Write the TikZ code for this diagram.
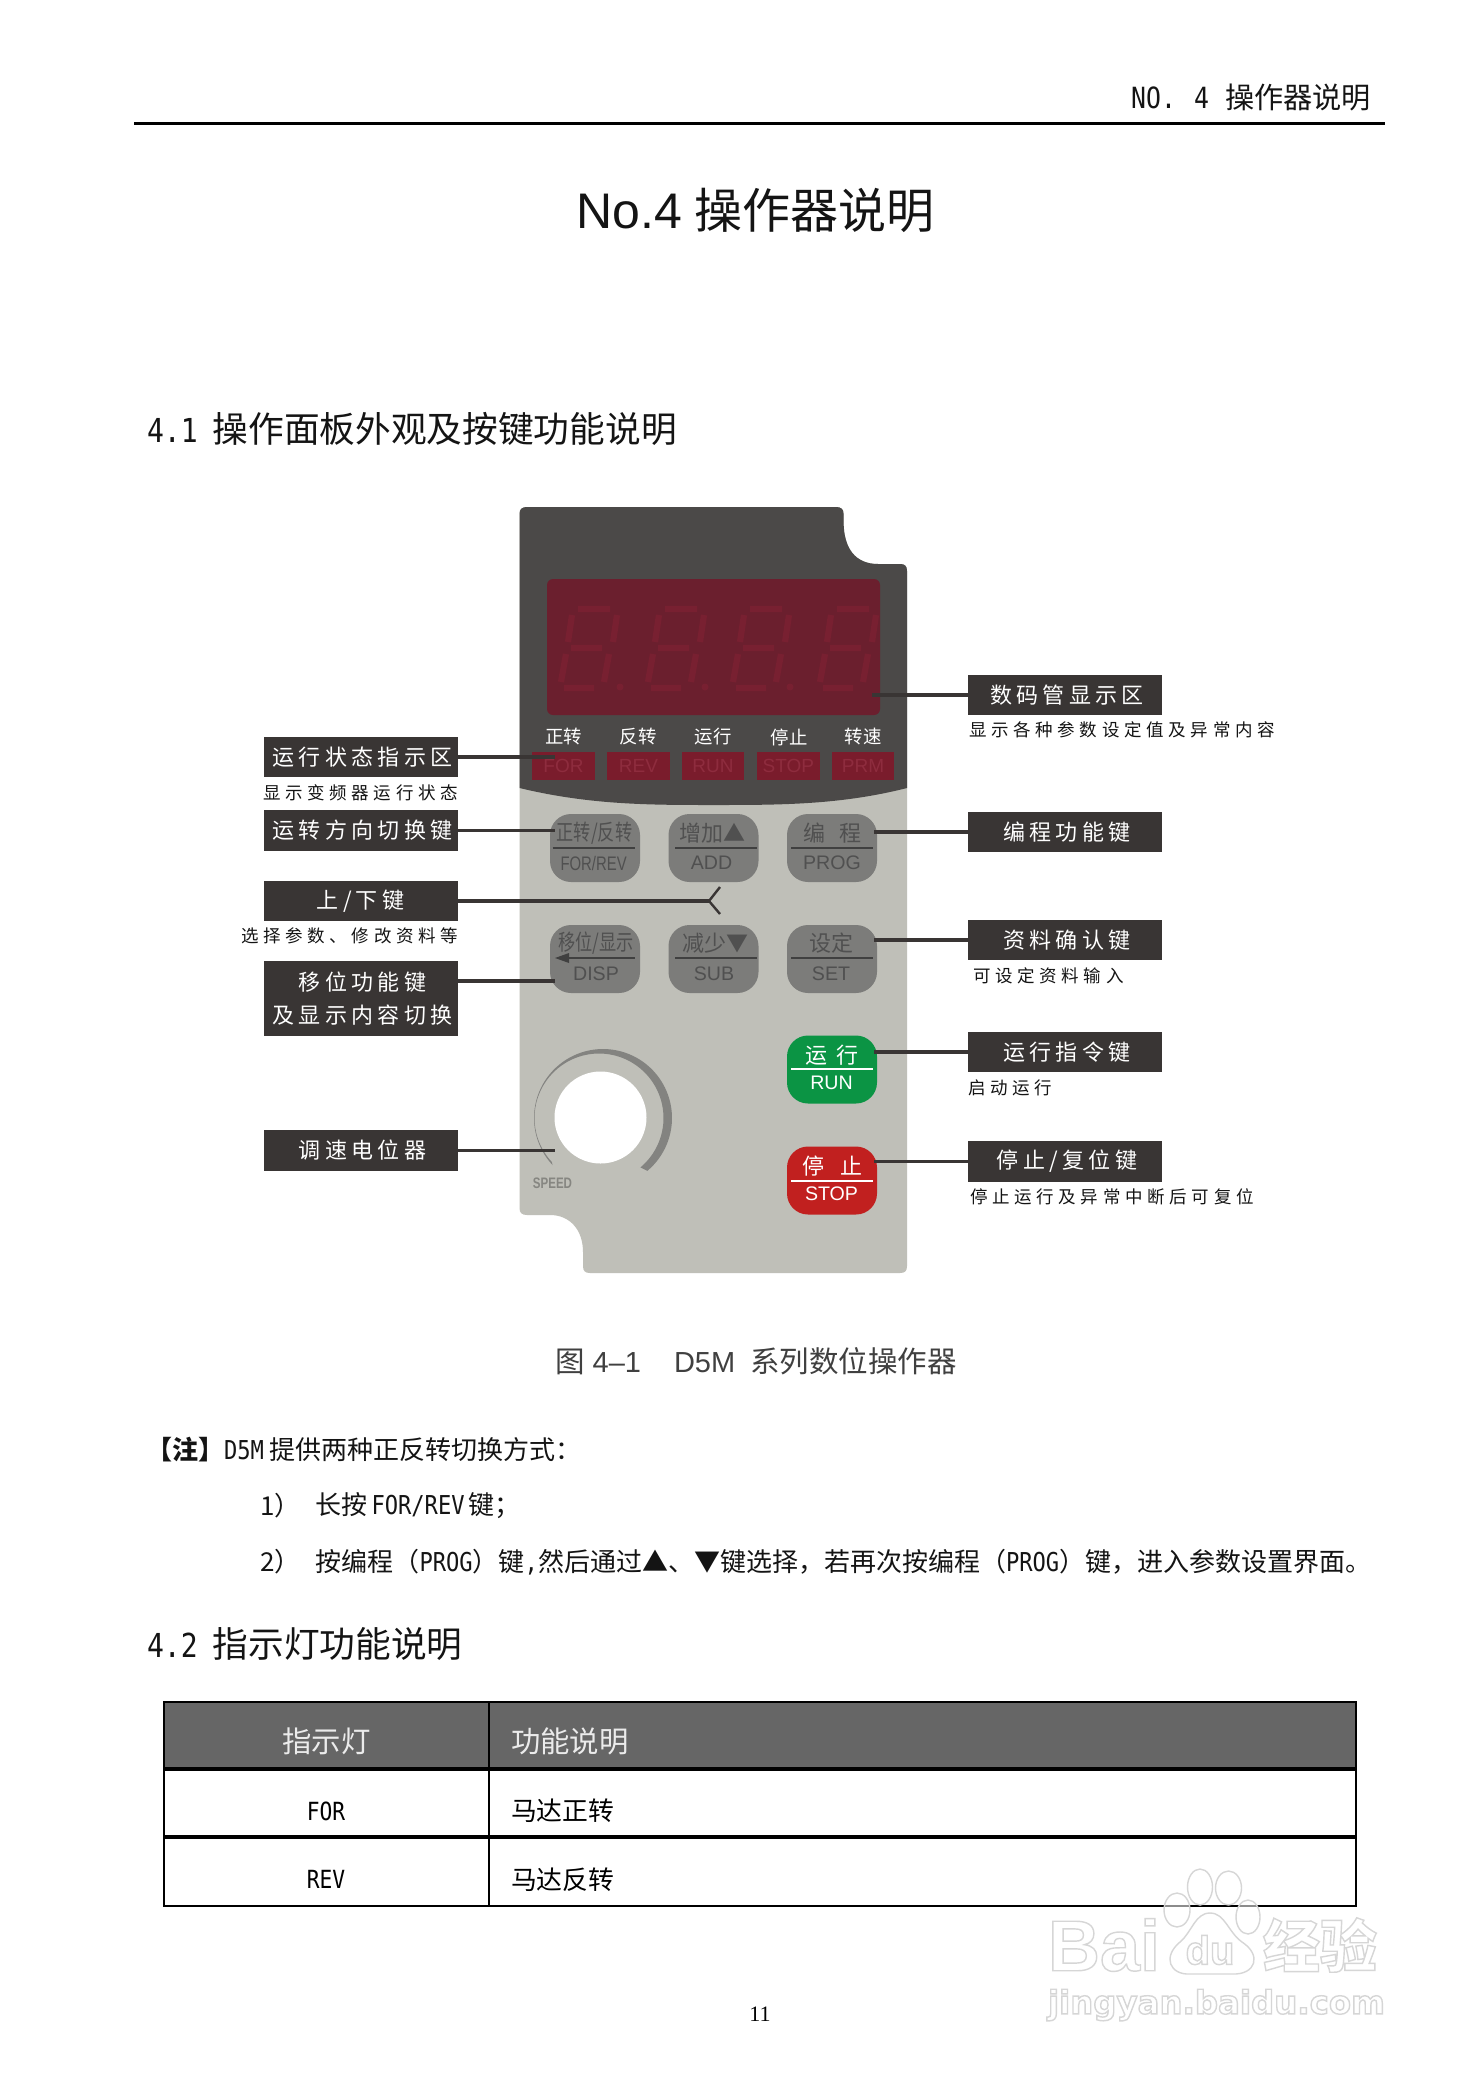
\documentclass[tikz,border=0pt]{standalone}
\usepackage{fontspec}
\setmainfont{Noto Sans CJK SC}
\newfontfamily\zhcond[FakeStretch=0.78]{Noto Sans CJK SC}
\newfontfamily\sa{Liberation Sans}
\newfontfamily\sacond[FakeStretch=0.76]{Liberation Sans}
\newfontfamily\mon[FakeStretch=0.85]{DejaVu Sans Mono}
\newfontfamily\srf{Liberation Serif}
\newfontfamily\wmf{DejaVu Sans}
\newcommand{\fsz}[1]{\fontsize{#1}{#1}\selectfont}
\newcommand{\wmtext}[1]{\special{pdf:code q 1 Tr 0.7 w 0.84 0.84 0.84 RG}#1\special{pdf:code Q}}
\definecolor{boxc}{HTML}{393534}
\definecolor{dark}{HTML}{4B4948}
\definecolor{light}{HTML}{BFBFB8}
\definecolor{btn}{HTML}{7C7C7A}
\definecolor{btnt}{HTML}{505050}
\definecolor{led}{HTML}{6B1F2E}
\definecolor{seg}{HTML}{782031}
\definecolor{ledr}{HTML}{7A1C2C}
\definecolor{ledt}{HTML}{8E2C3E}
\definecolor{runc}{HTML}{0B9444}
\definecolor{stopc}{HTML}{C1201F}
\definecolor{ink}{HTML}{141414}
\tikzset{
 txt/.style={inner sep=0pt,outer sep=0pt},
 callbox/.style={fill=boxc,text=white,inner sep=0pt,outer sep=0pt,minimum width=97pt,minimum height=20.2pt,align=center,font=\fontsize{11}{16.5}\selectfont\addfontfeature{LetterSpace=19.5}},
 subtxt/.style={txt,anchor=west,text=ink,font=\fsz{8.75}\addfontfeature{LetterSpace=26.8}},
 conn/.style={draw=boxc,line width=1.9pt},
 key/.style={inner sep=0pt,outer sep=0pt,minimum width=45pt,minimum height=34pt,rounded corners=10.5pt,fill=btn},
 keyup/.style={txt,text=btnt,font=\fsz{11}},
 keylo/.style={txt,text=btnt,font=\sa\fsz{9.8}},
 keyline/.style={line width=1.3pt},
 ledbox/.style={inner sep=0pt,outer sep=0pt,fill=ledr,minimum height=14pt,text=ledt,font=\sa\fsz{9.5}},
 ledlab/.style={txt,text=white,font=\fsz{9.2}},
 segm/.style={draw=seg,line width=3.1pt},
 body/.style={txt,anchor=west,text=ink,font=\fsz{13}},
 tline/.style={draw=black},
 wmark/.style={draw=black!16,line width=.7pt,fill=white,fill opacity=.55},
}
\newcommand{\digit}[1]{
 \draw[segm] (#1+21,609)--(#1+53,609) (#1+14,648)--(#1+45,648) (#1+7,688)--(#1+37,688)
   (#1+15,615)--(#1+11,642) (#1+60,615)--(#1+56,642) (#1+9,654)--(#1+4,682) (#1+52,654)--(#1+47,682);
}
\begin{document}
\begin{tikzpicture}[x=0.5pt,y=-0.5pt]
\useasboundingbox[fill=white] (0,0) rectangle (1474,2087);

% page header
\node[txt,anchor=east,text=ink,font=\fsz{14.6}] (hdr) at (1371,98) {{\mon NO.\hspace{9pt}4}\hspace{8pt}操作器说明};
\draw[line width=1.65pt] (134,123.3) -- (1385,123.3);
\node[txt,text=ink,font=\fsz{24}] (title) at (755.5,210.5) {{\sa\fsz{25}No.4}\hspace{6pt}操作器说明};
\node[txt,anchor=west,text=ink,font=\fsz{17.85}] (h41) at (147,428.5) {{\mon\fsz{16.5}4.1}\hspace{7.5pt}操作面板外观及按键功能说明};

% panel
\fill[light] (519.5,514) .. controls (519.5,509) and (522,507) .. (527,507) -- (836,507)
  .. controls (841,507) and (843.6,509) .. (843.6,514) -- (843.6,523)
  .. controls (844,548) and (855,564) .. (878,564) -- (900,564)
  .. controls (905,564) and (907,566) .. (907,571) -- (907,1266)
  .. controls (907,1271) and (905,1273) .. (900,1273) -- (590,1273)
  .. controls (585,1273) and (583,1271) .. (583,1266) -- (583,1252)
  .. controls (583,1230) and (570,1215) .. (550,1215) -- (527,1215)
  .. controls (522,1215) and (519.5,1213) .. (519.5,1208) -- cycle;
\fill[dark] (519.5,514) .. controls (519.5,509) and (522,507) .. (527,507) -- (836,507)
  .. controls (841,507) and (843.6,509) .. (843.6,514) -- (843.6,523)
  .. controls (844,548) and (855,564) .. (878,564) -- (900,564)
  .. controls (905,564) and (907,566) .. (907,571) -- (907,788)
  .. controls (840,805) and (780,805) .. (713,805)
  .. controls (650,805) and (590,805) .. (519.5,788) -- cycle;
\fill[led,rounded corners=3pt] (547,579) rectangle (880,715);
\digit{557}\digit{644}\digit{729}\digit{816}
\fill[seg] (620,687) circle[radius=3.5] (705,687) circle[radius=3.5] (790,687) circle[radius=3.5];

% indicator labels and lamps
\node[ledlab] (l1) at (563.6,737) {正转};
\node[ledlab] (l2) at (638,737) {反转};
\node[ledlab] (l3) at (713,737) {运行};
\node[ledlab] (l4) at (789,737) {停止};
\node[ledlab] (l5) at (863,737) {转速};
\node[ledbox,minimum width=31.5pt] (for) at (563.5,766) {FOR};
\node[ledbox,minimum width=31.5pt] (rev) at (638.5,766) {REV};
\node[ledbox,minimum width=31.2pt] (run) at (713,766) {RUN};
\node[ledbox,minimum width=31.2pt] (stp) at (788.3,766) {STOP};
\node[ledbox,minimum width=31pt] (prm) at (863,766) {PRM};

% keys
\node[key] (kfor) at (595,848) {};
\node[key] (kadd) at (713.5,848) {};
\node[key] (kprg) at (832,848) {};
\node[key] (kdis) at (595,959) {};
\node[key] (ksub) at (713.5,959) {};
\node[key] (kset) at (832,959) {};
\node[key,fill=runc] (krun) at (832,1069.5) {};
\node[key,fill=stopc] (kstp) at (832,1180.5) {};
\draw[keyline,btnt!80!black] (552.5,848) -- (634.6,848) (675,848) -- (757,848) (791,848) -- (873,848)
   (569,958) -- (635,958) (675,958) -- (757,958) (791,958) -- (873,958);
\fill[btnt!80!black] (555,958) -- (569,953) -- (569,963) -- cycle;
\draw[keyline,white] (791,1069) -- (873,1069) (791,1181) -- (873,1181);
\node[keyup,font=\zhcond\fsz{11}] (t1) at (594.5,833) {正转/反转};
\node[keyup] (t2) at (712,833) {增加▲};
\node[keyup] (t3) at (832,833) {编\hspace{7pt}程};
\node[keylo,font=\sacond\fsz{9.8}] (t4) at (593.6,863) {FOR/REV};
\node[keylo] (t5) at (711.5,863) {ADD};
\node[keylo] (t6) at (832,863) {PROG};
\node[keyup,font=\zhcond\fsz{11}] (t7) at (596,943) {移位/显示};
\node[keyup] (t8) at (715,943) {减少▼};
\node[keyup] (t9) at (831.5,943) {设定};
\node[keylo] (t10) at (596,974) {DISP};
\node[keylo] (t11) at (714,974) {SUB};
\node[keylo] (t12) at (831,974) {SET};
\node[keyup,text=white] (t13) at (832,1055) {运\hspace{4.7pt}行};
\node[keylo,text=white] (t14) at (831.5,1083) {RUN};
\node[keyup,text=white] (t15) at (832,1166) {停\hspace{8pt}止};
\node[keylo,text=white] (t16) at (831.5,1194) {STOP};

% speed knob
\fill[btn!90!light] plot[domain=137:410,samples=80] ({603+69*cos(\x)},{1118+69*sin(\x)})
   -- plot[domain=410:137,samples=80] ({599+64.5*cos(\x)},{1118+64.5*sin(\x)}) -- cycle;
\node[circle,fill=white,inner sep=0pt,outer sep=0pt,minimum size=46pt] (knob) at (600.5,1117.5) {};
\node[txt,text=black!30!light,font=\sacond\bfseries\fsz{7.6}] (spd) at (552.5,1183) {SPEED};

% callouts left
\node[callbox] (c1) at (360.5,757) {\hspace*{2pt}运行状态指示区};
\node[callbox] (c2) at (360.5,830.5) {\hspace*{2pt}运转方向切换键};
\node[callbox] (c3) at (360.5,901) {上/下键};
\node[callbox,minimum height=37.5pt] (c4) at (360.5,998.5) {\hspace*{2pt}移位功能键\\\hspace*{2pt}及显示内容切换};
\node[callbox] (c5) at (360.5,1150.5) {\hspace*{2pt}调速电位器};
\node[subtxt] (s1) at (263,793) {显示变频器运行状态};
\node[subtxt] (s3) at (241,936) {选择参数、修改资料等};

% callouts right
\node[callbox] (d1) at (1065,694.7) {\hspace*{2pt}数码管显示区};
\node[callbox] (d2) at (1065,832) {\hspace*{2pt}编程功能键};
\node[callbox] (d3) at (1065,940) {\hspace*{2pt}资料确认键};
\node[callbox] (d4) at (1065,1052) {\hspace*{2pt}运行指令键};
\node[callbox] (d5) at (1065,1161.5) {\hspace*{2pt}停止/复位键};
\node[subtxt] (s4) at (969,730) {显示各种参数设定值及异常内容};
\node[subtxt] (s5) at (973,975.6) {可设定资料输入};
\node[subtxt] (s6) at (968,1087.5) {启动运行};
\node[subtxt] (s7) at (970,1197) {停止运行及异常中断后可复位};

% connector ends
\coordinate (e1) at (555,757);
\coordinate (e2) at (555,830.5);
\coordinate (e3) at (709,901);
\coordinate (e3a) at (720,887);
\coordinate (e3b) at (720,914);
\coordinate (e4) at (555,981);
\coordinate (e5) at (555,1150.5);
\coordinate (f1) at (872,694.7);
\coordinate (f2) at (874,832);
\coordinate (f3) at (874,940);
\coordinate (f4) at (874,1052);
\coordinate (f5) at (874,1161.5);
\draw[conn] (c1.east) -- (e1);
\draw[conn] (c2.east) -- (e2);
\draw[conn] (c3.east) -- (e3);
\draw[conn,line width=1.2pt] (e3a) -- (e3) -- (e3b);
\draw[conn] (c4.east |- e4) -- (e4);
\draw[conn] (c5.east) -- (e5);
\draw[conn] (d1.west) -- (f1);
\draw[conn] (d2.west) -- (f2);
\draw[conn] (d3.west) -- (f3);
\draw[conn] (d4.west) -- (f4);
\draw[conn] (d5.west) -- (f5);

% caption and notes
\node[txt,text=black!75,font=\fsz{14.75}] (cap) at (756,1361) {图\hspace{4pt}{\sa\fsz{14.5}4–1}\hspace{16.5pt}{\sa\fsz{14.5}D5M}\hspace{7.5pt}系列数位操作器};
\node[body] (n0) at (146,1450) {{\bfseries 【注】}{\mon D5M}\hspace{3pt}提供两种正反转切换方式：};
\node[body] (n1a) at (260,1506) {1）};
\node[body] (n1b) at (315.5,1506) {长按\hspace{2pt}{\mon FOR/REV}\hspace{2pt}键；};
\node[body] (n2a) at (260,1562) {2）};
\node[body] (n2b) at (315.5,1562) {按编程（{\mon PROG}）键{\mon,}然后通过▲、▼键选择，若再次按编程（{\mon PROG}）键，进入参数设置界面。};
\node[txt,anchor=west,text=ink,font=\fsz{17.85}] (h42) at (147,1644) {{\mon\fsz{16.5}4.2}\hspace{7.5pt}指示灯功能说明};

% table
\fill[black!60] (163.6,1702) rectangle (1355.5,1769);
\draw[tline,line width=1pt] (163.6,1702) rectangle (1355.5,1906);
\draw[tline,line width=.8pt] (489,1702) -- (489,1906);
\draw[tline,line width=1.8pt] (163.6,1769) -- (1355.5,1769);
\draw[tline,line width=1.6pt] (163.6,1837) -- (1355.5,1837);
\draw[tline,line width=1.3pt] (163.6,1906) -- (1355.5,1906);
\node[txt,text=white!92!black,font=\fsz{14.7}] (th1) at (326.5,1741) {指示灯};
\node[txt,anchor=west,text=white!92!black,font=\fsz{14.7}] (th2) at (511,1741) {功能说明};
\node[txt,font=\mon\fsz{12.5}] (c11) at (326,1811) {FOR};
\node[txt,anchor=west,font=\fsz{12.9}] (c12) at (511,1811) {马达正转};
\node[txt,font=\mon\fsz{12.5}] (c21) at (326,1879) {REV};
\node[txt,anchor=west,font=\fsz{12.9}] (c22) at (511,1880) {马达反转};

\node[txt,font=\srf\fsz{11}] (pg) at (760,2014) {11};

% watermark
\draw[wmark] (1200,1887) ellipse[x radius=12.5,y radius=18];
\draw[wmark] (1228.5,1888) ellipse[x radius=13,y radius=17];
\draw[wmark] (1177,1910) ellipse[x radius=13,y radius=17];
\draw[wmark] (1248,1917) ellipse[x radius=12,y radius=17];
\draw[wmark] (1210,1913) .. controls (1195,1913) and (1192,1932) .. (1180,1942)
   .. controls (1162,1957) and (1170,1975) .. (1190,1974) -- (1232,1974)
   .. controls (1256,1975) and (1262,1955) .. (1242,1942)
   .. controls (1228,1932) and (1225,1913) .. (1210,1913) -- cycle;
\node[txt,anchor=west,text=white,font=\sa\bfseries\fsz{36}] (wm1) at (1048,1945) {\wmtext{Bai}};
\node[txt,text=white,font=\sa\bfseries\fsz{20}] (wm2) at (1210,1950) {\wmtext{du}};
\node[txt,anchor=west,text=white,font=\bfseries\fsz{28.5}] (wm3) at (1263,1945) {\wmtext{经验}};
\node[txt,anchor=west,text=white,font=\wmf\bfseries\fsz{16.2}] (wm4) at (1048,2005) {\wmtext{jingyan.baidu.com}};
\end{tikzpicture}
\end{document}
